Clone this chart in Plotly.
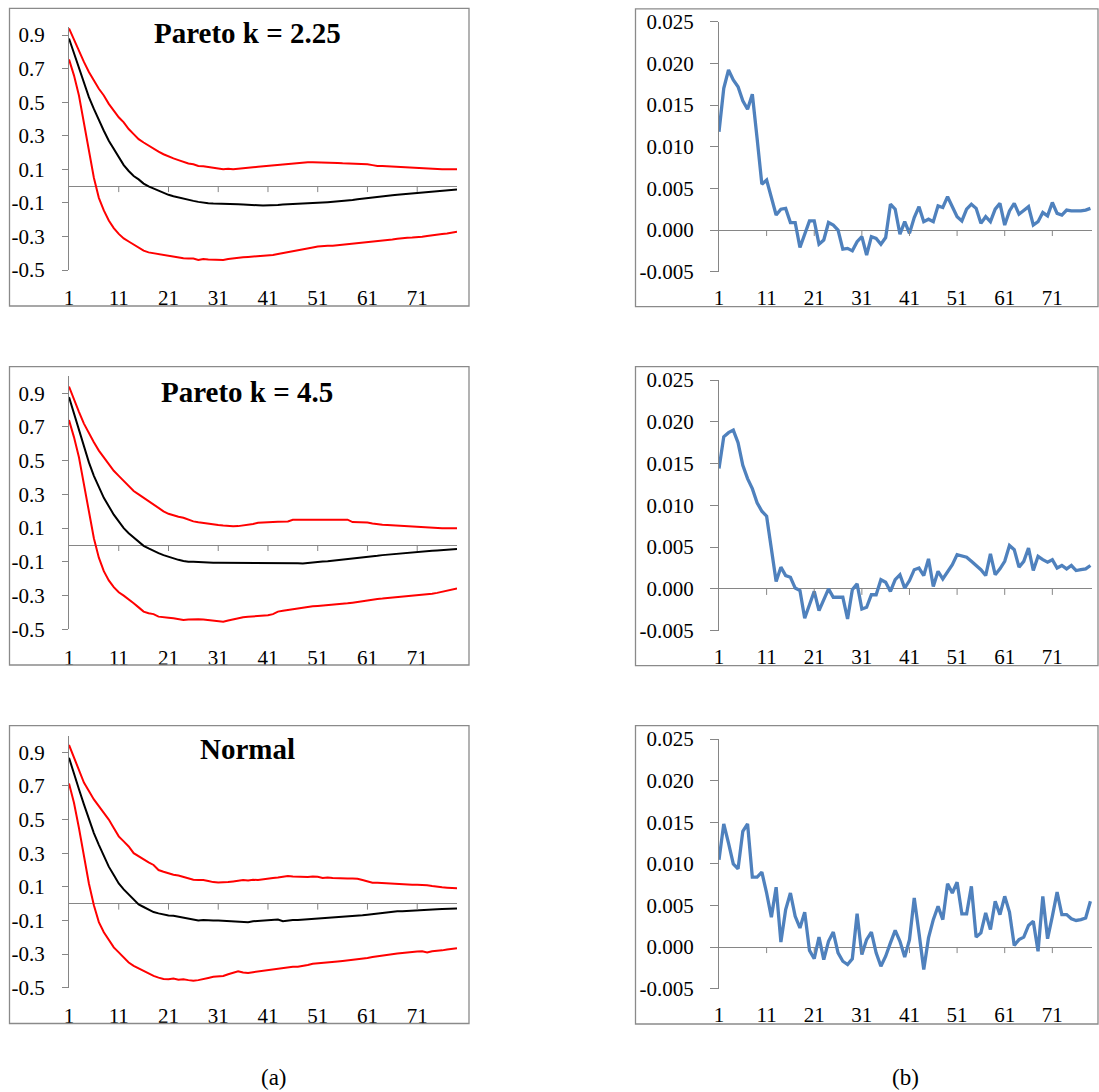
import plotly.graph_objects as go

# ---------------- data ----------------
periods = list(range(1, 80))
xtick_vals = [1, 11, 21, 31, 41, 51, 61, 71]
xtick_text = ["1", "11", "21", "31", "41", "51", "61", "71"]
xtick_marks = [11, 21, 31, 41, 51, 61, 71]
left_ytick_vals = [0.9, 0.7, 0.5, 0.3, 0.1, -0.1, -0.3, -0.5]
left_ytick_text = ["0.9", "0.7", "0.5", "0.3", "0.1", "-0.1", "-0.3", "-0.5"]
right_ytick_vals = [0.025, 0.020, 0.015, 0.010, 0.005, 0.0, -0.005]
right_ytick_text = ["0.025", "0.020", "0.015", "0.010", "0.005", "0.000", "-0.005"]
panel_titles = ["Pareto k = 2.25", "Pareto k = 4.5", "Normal"]
column_labels = ["(a)", "(b)"]

p225_mean = [0.88, 0.79, 0.70, 0.61, 0.53, 0.46, 0.39, 0.33, 0.27, 0.22,
             0.17, 0.125, 0.09, 0.06, 0.04, 0.015, -0.002, -0.015, -0.03, -0.042,
             -0.052, -0.06, -0.068, -0.075, -0.082, -0.088, -0.094, -0.099, -0.102, -0.104,
             -0.104, -0.106, -0.108, -0.105, -0.108, -0.11, -0.11, -0.112, -0.114, -0.115,
             -0.115, -0.114, -0.112, -0.11, -0.109, -0.108, -0.107, -0.106, -0.104, -0.102,
             -0.10, -0.098, -0.096, -0.094, -0.092, -0.089, -0.086, -0.083, -0.079, -0.075,
             -0.071, -0.068, -0.064, -0.061, -0.058, -0.055, -0.052, -0.049, -0.046, -0.043,
             -0.04, -0.037, -0.035, -0.033, -0.03, -0.028, -0.026, -0.023, -0.02]
p225_upper = [0.94, 0.87, 0.80, 0.74, 0.68, 0.63, 0.58, 0.54, 0.49, 0.45,
              0.41, 0.38, 0.34, 0.31, 0.28, 0.26, 0.24, 0.22, 0.205, 0.19,
              0.175, 0.165, 0.155, 0.145, 0.135, 0.13, 0.12, 0.118, 0.115, 0.11,
              0.105, 0.10, 0.104, 0.10, 0.102, 0.108, 0.11, 0.112, 0.115, 0.118,
              0.12, 0.125, 0.128, 0.13, 0.132, 0.135, 0.14, 0.14, 0.142, 0.142,
              0.142, 0.142, 0.14, 0.14, 0.138, 0.136, 0.135, 0.135, 0.133, 0.13,
              0.13, 0.125, 0.12, 0.12, 0.118, 0.118, 0.115, 0.112, 0.11, 0.11,
              0.109, 0.108, 0.106, 0.102, 0.10, 0.10, 0.10, 0.10, 0.10]
p225_lower = [0.755, 0.66, 0.54, 0.38, 0.20, 0.05, -0.07, -0.145, -0.205, -0.25,
              -0.285, -0.312, -0.33, -0.35, -0.37, -0.385, -0.395, -0.40, -0.408, -0.41,
              -0.415, -0.42, -0.425, -0.43, -0.432, -0.432, -0.44, -0.435, -0.438, -0.44,
              -0.44, -0.44, -0.435, -0.43, -0.425, -0.424, -0.422, -0.42, -0.418, -0.416,
              -0.415, -0.41, -0.405, -0.40, -0.395, -0.39, -0.383, -0.378, -0.372, -0.366,
              -0.36, -0.356, -0.356, -0.355, -0.352, -0.348, -0.345, -0.342, -0.34, -0.338,
              -0.336, -0.334, -0.33, -0.326, -0.322, -0.318, -0.314, -0.31, -0.308, -0.307,
              -0.306, -0.302, -0.297, -0.292, -0.288, -0.285, -0.282, -0.277, -0.272]

p45_mean = [0.877, 0.78, 0.69, 0.58, 0.49, 0.41, 0.34, 0.28, 0.23, 0.18,
            0.14, 0.10, 0.07, 0.045, 0.02, -0.005, -0.02, -0.035, -0.048, -0.06,
            -0.07, -0.08, -0.088, -0.095, -0.10, -0.10, -0.102, -0.104, -0.105, -0.105,
            -0.105, -0.105, -0.105, -0.105, -0.105, -0.105, -0.105, -0.105, -0.105, -0.105,
            -0.105, -0.105, -0.104, -0.104, -0.105, -0.108, -0.108, -0.11, -0.106, -0.104,
            -0.10, -0.098, -0.096, -0.093, -0.09, -0.088, -0.086, -0.083, -0.08, -0.076,
            -0.072, -0.068, -0.064, -0.06, -0.057, -0.054, -0.051, -0.048, -0.045, -0.042,
            -0.04, -0.038, -0.036, -0.034, -0.032, -0.03, -0.028, -0.026, -0.024]
p45_upper = [0.94, 0.86, 0.79, 0.72, 0.66, 0.61, 0.56, 0.52, 0.48, 0.44,
             0.41, 0.38, 0.35, 0.32, 0.30, 0.28, 0.26, 0.24, 0.215, 0.20,
             0.185, 0.175, 0.168, 0.162, 0.152, 0.14, 0.135, 0.13, 0.125, 0.12,
             0.118, 0.115, 0.112, 0.111, 0.112, 0.115, 0.12, 0.125, 0.132, 0.135,
             0.136, 0.137, 0.138, 0.138, 0.14, 0.15, 0.15, 0.15, 0.151, 0.152,
             0.152, 0.152, 0.152, 0.152, 0.152, 0.152, 0.15, 0.136, 0.135, 0.135,
             0.133, 0.128, 0.122, 0.12, 0.118, 0.116, 0.114, 0.113, 0.112, 0.111,
             0.11, 0.106, 0.102, 0.10, 0.10, 0.10, 0.10, 0.10, 0.10]
p45_lower = [0.741, 0.64, 0.52, 0.37, 0.20, 0.04, -0.075, -0.155, -0.21, -0.25,
             -0.28, -0.30, -0.32, -0.345, -0.37, -0.395, -0.405, -0.41, -0.425, -0.43,
             -0.432, -0.435, -0.44, -0.445, -0.442, -0.44, -0.44, -0.442, -0.445, -0.448,
             -0.452, -0.455, -0.448, -0.44, -0.432, -0.428, -0.426, -0.424, -0.422, -0.42,
             -0.417, -0.41, -0.395, -0.39, -0.385, -0.38, -0.375, -0.37, -0.367, -0.364,
             -0.362, -0.36, -0.358, -0.355, -0.352, -0.349, -0.346, -0.342, -0.337, -0.332,
             -0.328, -0.324, -0.32, -0.318, -0.315, -0.313, -0.311, -0.309, -0.307, -0.304,
             -0.301, -0.298, -0.294, -0.289, -0.284, -0.278, -0.272, -0.265, -0.258]

normal_mean = [0.868, 0.77, 0.68, 0.59, 0.50, 0.42, 0.35, 0.28, 0.22, 0.17,
               0.12, 0.085, 0.055, 0.02, -0.005, -0.02, -0.035, -0.05, -0.058, -0.066,
               -0.07, -0.072, -0.078, -0.085, -0.09, -0.095, -0.10, -0.098, -0.097, -0.10,
               -0.10, -0.102, -0.104, -0.106, -0.108, -0.11, -0.11, -0.105, -0.102, -0.10,
               -0.098, -0.096, -0.094, -0.104, -0.10, -0.098, -0.097, -0.095, -0.094, -0.093,
               -0.09, -0.088, -0.086, -0.084, -0.082, -0.08, -0.078, -0.075, -0.072, -0.069,
               -0.066, -0.062, -0.058, -0.054, -0.05, -0.047, -0.046, -0.045, -0.044, -0.043,
               -0.042, -0.04, -0.038, -0.036, -0.034, -0.032, -0.031, -0.03, -0.029]
normal_upper = [0.944, 0.87, 0.80, 0.72, 0.67, 0.62, 0.58, 0.54, 0.50, 0.45,
                0.40, 0.37, 0.34, 0.30, 0.28, 0.26, 0.245, 0.23, 0.20, 0.19,
                0.18, 0.172, 0.167, 0.16, 0.15, 0.142, 0.14, 0.14, 0.135, 0.128,
                0.126, 0.126, 0.128, 0.132, 0.135, 0.14, 0.138, 0.142, 0.14, 0.145,
                0.15, 0.152, 0.155, 0.162, 0.165, 0.162, 0.16, 0.162, 0.158, 0.162,
                0.16, 0.152, 0.155, 0.152, 0.15, 0.15, 0.15, 0.15, 0.148, 0.14,
                0.13, 0.124, 0.124, 0.122, 0.12, 0.118, 0.114, 0.112, 0.112, 0.112,
                0.112, 0.112, 0.11, 0.105, 0.10, 0.097, 0.095, 0.093, 0.092]
normal_lower = [0.714, 0.60, 0.45, 0.29, 0.12, -0.01, -0.11, -0.17, -0.215, -0.26,
                -0.29, -0.32, -0.35, -0.37, -0.385, -0.40, -0.41, -0.43, -0.44, -0.448,
                -0.45, -0.445, -0.452, -0.45, -0.455, -0.458, -0.455, -0.45, -0.442, -0.435,
                -0.432, -0.43, -0.42, -0.413, -0.402, -0.41, -0.412, -0.408, -0.404, -0.40,
                -0.396, -0.392, -0.388, -0.383, -0.378, -0.376, -0.376, -0.372, -0.365, -0.358,
                -0.356, -0.352, -0.349, -0.346, -0.344, -0.341, -0.338, -0.335, -0.331, -0.327,
                -0.323, -0.318, -0.313, -0.309, -0.305, -0.301, -0.297, -0.293, -0.289, -0.287,
                -0.285, -0.283, -0.29, -0.283, -0.282, -0.278, -0.273, -0.268, -0.265]

diff_p225 = [0.0118, 0.0170, 0.0192, 0.0180, 0.0172, 0.0155, 0.0145, 0.0163, 0.0110, 0.0055,
             0.0060, 0.0038, 0.0018, 0.0025, 0.0026, 0.0009, 0.0009, -0.0021, -0.0005, 0.0011,
             0.0011, -0.0017, -0.0012, 0.0009, 0.0006, 0.0000, -0.0023, -0.0022, -0.0025, -0.0014,
             -0.0008, -0.0030, -0.0008, -0.0010, -0.0017, -0.0009, 0.0031, 0.0025, -0.0005, 0.0010,
             -0.0004, 0.0015, 0.0028, 0.0010, 0.0013, 0.0010, 0.0029, 0.0027, 0.0040, 0.0027,
             0.0016, 0.0011, 0.0025, 0.0031, 0.0026, 0.0008, 0.0016, 0.0010, 0.0025, 0.0032,
             0.0006, 0.0023, 0.0032, 0.0019, 0.0024, 0.0028, 0.0006, 0.0010, 0.0021, 0.0017,
             0.0033, 0.0020, 0.0018, 0.0024, 0.0023, 0.0023, 0.0023, 0.0024, 0.0026]
diff_p45 = [0.0144, 0.0182, 0.0187, 0.0190, 0.0175, 0.0148, 0.0132, 0.0120, 0.0103, 0.0093,
            0.0087, 0.0047, 0.0009, 0.0026, 0.0016, 0.0014, 0.0001, -0.0002, -0.0035, -0.0019,
            -0.0003, -0.0026, -0.0013, 0.0000, -0.0010, -0.0010, -0.0010, -0.0036, -0.0001, 0.0006,
            -0.0024, -0.0022, -0.0007, -0.0007, 0.0011, 0.0008, -0.0003, 0.0011, 0.0017, 0.0001,
            0.0010, 0.0023, 0.0025, 0.0016, 0.0036, 0.0003, 0.0021, 0.0012, 0.0021, 0.0029,
            0.0041, 0.0039, 0.0038, 0.0033, 0.0028, 0.0023, 0.0016, 0.0042, 0.0017, 0.0024,
            0.0033, 0.0052, 0.0047, 0.0026, 0.0033, 0.0049, 0.0022, 0.0039, 0.0035, 0.0032,
            0.0035, 0.0025, 0.0028, 0.0024, 0.0028, 0.0022, 0.0023, 0.0024, 0.0028]
diff_normal = [0.0105, 0.0148, 0.0125, 0.0100, 0.0094, 0.0139, 0.0148, 0.0084, 0.0084, 0.0090,
               0.0065, 0.0036, 0.0072, 0.0006, 0.0045, 0.0065, 0.0037, 0.0023, 0.0042, -0.0004,
               -0.0014, 0.0012, -0.0015, 0.0007, 0.0018, -0.0007, -0.0017, -0.0021, -0.0014, 0.0040,
               -0.0009, 0.0009, 0.0018, -0.0007, -0.0023, -0.0011, 0.0005, 0.0020, 0.0007, -0.0012,
               0.0009, 0.0059, 0.0017, -0.0027, 0.0011, 0.0033, 0.0049, 0.0033, 0.0076, 0.0065,
               0.0078, 0.0040, 0.0040, 0.0073, 0.0012, 0.0017, 0.0041, 0.0021, 0.0055, 0.0039,
               0.0061, 0.0042, 0.0002, 0.0009, 0.0012, 0.0026, 0.0031, -0.0005, 0.0061, 0.0010,
               0.0037, 0.0066, 0.0039, 0.0039, 0.0034, 0.0032, 0.0033, 0.0035, 0.0055]

left_series = [(p225_mean, p225_upper, p225_lower),
               (p45_mean, p45_upper, p45_lower),
               (normal_mean, normal_upper, normal_lower)]
right_series = [diff_p225, diff_p45, diff_normal]

# ---------------- layout geometry (pixels) ----------------
W, H = 1099, 1092


def fx(p):
    return p / W


def fy(p):
    return 1 - p / H


GRAY = "#868686"
BORDER = "#8a8a8a"
TICKFONT = dict(family="Liberation Serif", size=21, color="#000000")

left_geo = [
    dict(top=26.7, bot=270.0, ymax=0.95, box=(9.5, 8.3, 469.0, 306.0), ty=33.0),
    dict(top=376.4, bot=629.3, ymax=1.0, box=(9.5, 366.7, 469.0, 665.0), ty=391.7),
    dict(top=735.5, bot=987.7, ymax=1.0, box=(9.5, 725.7, 469.0, 1023.5), ty=749.3),
]
right_geo = [
    dict(top=21.7, bot=271.7, box=(635.5, 8.8, 1098.0, 306.7)),
    dict(top=380.0, bot=630.7, box=(635.5, 366.7, 1098.0, 665.7)),
    dict(top=739.0, bot=988.7, box=(635.5, 725.7, 1098.0, 1024.0)),
]

fig = go.Figure()
layout = {}
shapes = []
annotations = []


def names(n):
    xa = "xaxis" if n == 1 else f"xaxis{n}"
    ya = "yaxis" if n == 1 else f"yaxis{n}"
    xr = "x" if n == 1 else f"x{n}"
    yr = "y" if n == 1 else f"y{n}"
    return xa, ya, xr, yr


for i in range(3):
    # ---- left panel ----
    n = 2 * i + 1
    xa, ya, xr, yr = names(n)
    g = left_geo[i]
    mean, upper, lower = left_series[i]
    for ys, col in ((upper, "#FF0000"), (lower, "#FF0000"), (mean, "#000000")):
        fig.add_trace(go.Scatter(x=periods, y=ys, xaxis=xr, yaxis=yr, mode="lines",
                                 line=dict(color=col, width=2), showlegend=False,
                                 hoverinfo="skip"))
    layout[xa] = dict(domain=[fx(69), fx(457)], range=[1, 79], anchor=yr, automargin=False,
                      tickmode="array", tickvals=xtick_vals, ticktext=xtick_text,
                      ticks="outside", ticklen=9, tickcolor="rgba(0,0,0,0)",
                      showline=False, showgrid=False, zeroline=False, tickfont=TICKFONT)
    layout[ya] = dict(domain=[fy(g["bot"]), fy(g["top"])], range=[-0.5, g["ymax"]], anchor=xr,
                      automargin=False,
                      tickmode="array", tickvals=left_ytick_vals, ticktext=left_ytick_text,
                      ticks="outside", ticklen=6, tickcolor=GRAY, showline=True,
                      linecolor=GRAY, linewidth=1, showgrid=False, zeroline=True,
                      zerolinecolor=GRAY, zerolinewidth=1, ticklabelstandoff=13,
                      tickfont=TICKFONT)
    for t in xtick_marks:
        shapes.append(dict(type="line", xref=xr, yref=yr, x0=t, x1=t, ysizemode="pixel",
                           yanchor=0, y0=0, y1=-6, line=dict(color=GRAY, width=1)))
    x0, y0, x1, y1 = g["box"]
    shapes.append(dict(type="rect", xref="paper", yref="paper", x0=fx(x0), x1=fx(x1),
                       y0=fy(y1), y1=fy(y0), line=dict(color=BORDER, width=1.3)))
    annotations.append(dict(text=f"<b>{panel_titles[i]}</b>", xref="paper", yref="paper",
                            x=fx(247), y=fy(g["ty"]), xanchor="center", yanchor="middle",
                            showarrow=False,
                            font=dict(family="Liberation Serif", size=29, color="#000000")))

    # ---- right panel ----
    n = 2 * i + 2
    xa, ya, xr, yr = names(n)
    g = right_geo[i]
    fig.add_trace(go.Scatter(x=periods, y=right_series[i], xaxis=xr, yaxis=yr, mode="lines",
                             line=dict(color="#4F81BD", width=3.3), showlegend=False,
                             hoverinfo="skip"))
    layout[xa] = dict(domain=[fx(719), fx(1092)], range=[1, 79.33], anchor=yr, automargin=False,
                      tickmode="array", tickvals=xtick_vals, ticktext=xtick_text,
                      ticks="outside", ticklen=7, tickcolor="rgba(0,0,0,0)",
                      showline=False, showgrid=False, zeroline=False, tickfont=TICKFONT)
    layout[ya] = dict(domain=[fy(g["bot"]), fy(g["top"])], range=[-0.005, 0.025], anchor=xr,
                      automargin=False,
                      tickmode="array", tickvals=right_ytick_vals, ticktext=right_ytick_text,
                      ticks="outside", ticklen=8, tickcolor=GRAY, showline=True,
                      linecolor=GRAY, linewidth=1, showgrid=False, zeroline=True,
                      zerolinecolor=GRAY, zerolinewidth=1, ticklabelstandoff=12,
                      tickfont=TICKFONT)
    for t in xtick_marks:
        shapes.append(dict(type="line", xref=xr, yref=yr, x0=t, x1=t, ysizemode="pixel",
                           yanchor=0, y0=0, y1=-6, line=dict(color=GRAY, width=1)))
    x0, y0, x1, y1 = g["box"]
    shapes.append(dict(type="rect", xref="paper", yref="paper", x0=fx(x0), x1=fx(x1),
                       y0=fy(y1), y1=fy(y0), line=dict(color=BORDER, width=1.3)))

for lbl, px in zip(column_labels, (274, 905)):
    annotations.append(dict(text=lbl, xref="paper", yref="paper", x=fx(px), y=fy(1077),
                            xanchor="center", yanchor="middle", showarrow=False,
                            font=dict(family="Liberation Serif", size=23, color="#000000")))

fig.update_layout(width=W, height=H, margin=dict(l=0, r=0, t=0, b=0, pad=0),
                  autosize=False, paper_bgcolor="white", plot_bgcolor="white",
                  shapes=shapes, annotations=annotations, **layout)

fig.write_html("out.html",
               config={"displayModeBar": False},
               post_script="document.body.style.margin='0px';"
                           "document.body.style.overflow='hidden';")
